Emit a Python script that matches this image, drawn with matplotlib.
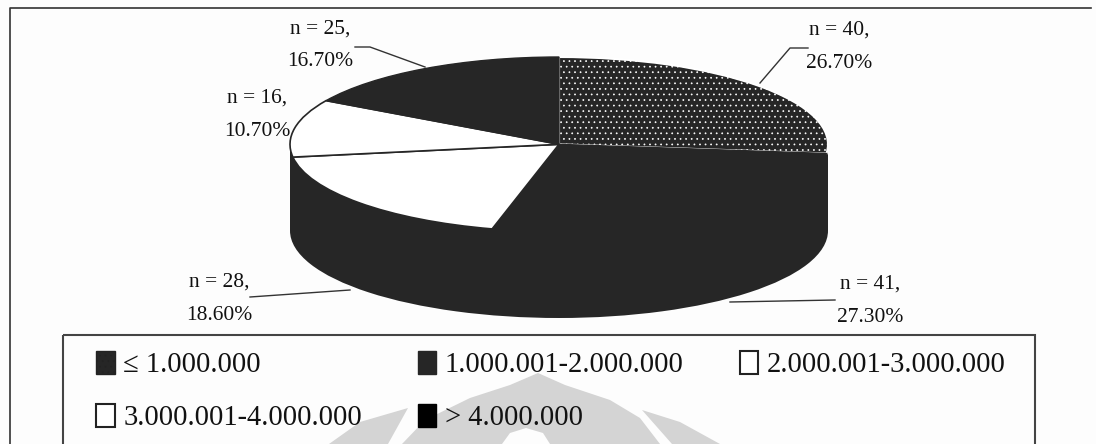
import matplotlib
matplotlib.use('Agg')
from matplotlib import pyplot as plt
from matplotlib.patches import Patch, Rectangle, Polygon

# income groups and what the chart says about them
categories = ['\u2264 1.000.000', '1.000.001-2.000.000', '2.000.001-3.000.000',
              '3.000.001-4.000.000', '> 4.000.000']
counts = [40, 41, 28, 16, 25]
percents = ['26.70%', '27.30%', '18.60%', '10.70%', '16.70%']

DARK = '#262626'
PAPER = '#fdfdfd'
W, H = 1096, 444
DEPTH = 87 / 88  # side wall, in pie radii
plt.rcParams['font.family'] = ['Liberation Serif', 'DejaVu Sans']
plt.rcParams['hatch.linewidth'] = 0.5

fig = plt.figure(figsize=(W / 100, H / 100), dpi=100, facecolor=PAPER)

# pixel axes for frames, labels and leader lines
bg = fig.add_axes([0, 0, 1, 1])
bg.set_xlim(0, W)
bg.set_ylim(H, 0)
bg.axis('off')

# university seal showing through the page
seal = '#d4d4d4'
bg.add_patch(Polygon([(402, 444), (425, 420), (470, 398), (510, 385), (538, 373), (565, 385),
                      (610, 400), (640, 418), (660, 444)], fc=seal, ec='none'))
bg.add_patch(Polygon([(502, 444), (510, 433), (526, 428), (543, 433), (550, 444)], fc=PAPER, ec='none'))
bg.add_patch(Polygon([(329, 444), (360, 422), (408, 408), (388, 444)], fc=seal, ec='none'))
bg.add_patch(Polygon([(642, 410), (680, 422), (720, 444), (672, 444)], fc=seal, ec='none'))

bg.plot([10, 10, 1091], [H, 8, 8], color='#333333', lw=1.2)
bg.add_patch(Rectangle((63, 335), 972, 120, fc='none', ec='#444444', lw=1.5))

# pie squashed into an ellipse: base first, then wall, then top
ax = fig.add_axes([290 / W, (H - 318) / H, 538 / W, 261 / H])
ax.patch.set_alpha(0)
ax.pie([1], radius=1, center=(0, -DEPTH), colors=[DARK], frame=True)
ax.add_patch(Rectangle((-1, -DEPTH), 2, DEPTH, fc=DARK, ec='none'))
wedges, _ = ax.pie(counts, startangle=90, counterclock=False, radius=1, frame=True,
                   colors=[DARK, DARK, 'white', 'white', DARK])
wedges[0].set(hatch='...', edgecolor='white', lw=1.5)
wedges[1].set(edgecolor=DARK)
wedges[2].set(edgecolor=DARK, lw=1.2)
wedges[3].set(edgecolor=DARK, lw=1.2)
wedges[4].set(edgecolor=DARK)
ax.set_aspect('auto')
ax.set_xlim(-1, 1)
ax.set_ylim(-1 - DEPTH, 1)
ax.axis('off')

# slice labels, same order as counts
label_pos = [(839, 30), (870, 284), (219, 282), (257, 98), (320, 29)]
for n, pct, (x, y) in zip(counts, percents, label_pos):
    bg.text(x, y, 'n = %d,' % n, ha='center', va='center', fontsize=15.5, color='#111111')
    bg.text(x, y + 33, pct, ha='center', va='center', fontsize=15.5, color='#111111')

leaders = [([760, 790, 808], [83, 48, 48]),
           ([730, 835], [302, 300]),
           ([250, 350], [297, 290]),
           ([355, 370, 425], [47, 47, 67])]
for xs, ys in leaders:
    bg.plot(xs, ys, color='#333333', lw=1)

# legend fills by column, so the entries are reordered to read across
handles = [Patch(fc=DARK, ec='#222222', hatch='...'),
           Patch(fc='white', ec='#222222', lw=1.5),
           Patch(fc=DARK, ec=DARK),
           Patch(fc='black', ec='black'),
           Patch(fc='white', ec='#222222', lw=1.5)]
labels = [categories[0], categories[3], categories[1], categories[4], categories[2]]
bg.legend(handles, labels, ncol=3, frameon=False, fontsize=20.6, labelcolor='#111111',
          loc='upper left', bbox_to_anchor=(96 / W, 1 - 351 / H), borderpad=0, borderaxespad=0,
          handlelength=0.65, handleheight=0.85, handletextpad=0.3,
          columnspacing=1.95, labelspacing=0.9)

fig.savefig('out.png', dpi=100, facecolor=fig.get_facecolor())
